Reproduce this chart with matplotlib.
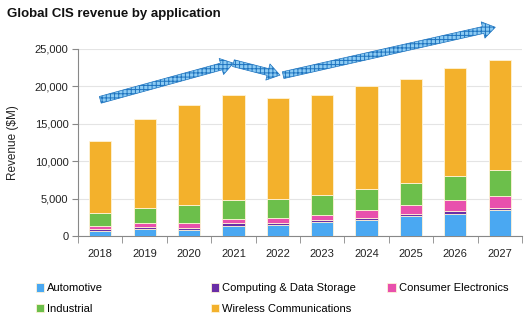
import numpy as np
import matplotlib
matplotlib.use("Agg")
import matplotlib.pyplot as plt
import matplotlib.patches as mpatches

plt.rcParams['font.family'] = ['Liberation Sans', 'DejaVu Sans']
plt.rcParams['hatch.linewidth'] = 0.7

# revenue by application, $M
years = ['2018', '2019', '2020', '2021', '2022', '2023', '2024', '2025', '2026', '2027']
automotive = [650, 930, 800, 1330, 1460, 1860, 2170, 2620, 2970, 3420]
computing = [280, 310, 300, 360, 310, 310, 220, 350, 360, 340]
consumer = [360, 530, 590, 610, 660, 660, 1110, 1190, 1500, 1600]
industrial = [1730, 1950, 2390, 2580, 2490, 2620, 2840, 2980, 3190, 3460]
totals = [12700, 15700, 17500, 18800, 18500, 18900, 20000, 21000, 22400, 23500]
wireless = [t - a - c - s - i for t, a, c, s, i in
            zip(totals, automotive, computing, consumer, industrial)]

series = [
    ('Automotive', automotive, '#4AA8F2'),
    ('Computing & Data Storage', computing, '#6A2EA6'),
    ('Consumer Electronics', consumer, '#E850AD'),
    ('Industrial', industrial, '#6CBF4B'),
    ('Wireless Communications', wireless, '#F3B12C'),
]

# trend arrows (x in category index, y in $M)
arrows = [
    ((0.0, 18200), (3.0, 23100)),
    ((3.0, 23100), (4.05, 21500)),
    ((4.12, 21500), (8.9, 27900)),
]

fig = plt.figure(figsize=(5.24, 3.22), dpi=100)
ax = fig.add_axes([0.149, 0.267, 0.847, 0.581])

x = np.arange(len(years))
bottom = np.zeros(len(years))
handles = []
for name, vals, col in series:
    b = ax.bar(x, vals, 0.5, bottom=bottom, color=col, edgecolor='#FFF3D6',
               linewidth=0.6, label=name, zorder=3)
    handles.append(b)
    bottom += np.array(vals)

ax.set_xlim(-0.5, len(years) - 0.5)
ax.set_ylim(0, 25000)
ax.set_yticks(np.arange(0, 25001, 5000))
ax.set_yticklabels([f'{v:,}' for v in range(0, 25001, 5000)], fontsize=8, color='#222222')
ax.set_xticks(x)
ax.set_xticklabels(years, fontsize=8, color='#222222')
ax.set_xticks(np.arange(-0.5, len(years)), minor=True)
ax.tick_params(axis='x', which='major', length=0, pad=9)
ax.tick_params(axis='x', which='minor', length=5, color='#888888', direction='out')
ax.tick_params(axis='y', length=4, color='#888888', pad=3)
ax.grid(axis='y', color='#E4E4E4', linewidth=0.8, zorder=0)
for s in ['top', 'right']:
    ax.spines[s].set_visible(False)
for s in ['left', 'bottom']:
    ax.spines[s].set_color('#888888')
    ax.spines[s].set_linewidth(0.8)
ax.set_ylabel('Revenue ($M)', fontsize=8.5, color='#222222', labelpad=11)

for start, end in arrows:
    arr = mpatches.FancyArrowPatch(
        start, end, arrowstyle='simple,head_length=9,head_width=12,tail_width=5',
        mutation_scale=1, shrinkA=0, shrinkB=0, facecolor='#8CCBF3',
        edgecolor='#1F74BF', hatch='++++', linewidth=0.5, zorder=5, clip_on=False)
    ax.add_patch(arr)

fig.text(0.013, 0.955, 'Global CIS revenue by application', fontsize=9.5,
         fontweight='bold', color='#111111', va='center')

# legend laid out as three fixed columns
cols = [([0, 3], 0.068), ([1, 4], 0.402), ([2], 0.739)]
for idx, xpos in cols:
    leg = fig.legend([handles[i] for i in idx], [series[i][0] for i in idx],
                     loc='upper left', bbox_to_anchor=(xpos, 0.12),
                     frameon=False, fontsize=8, handlelength=0.75, handleheight=0.75,
                     handletextpad=0.3, labelspacing=0.95, borderpad=0,
                     borderaxespad=0)

fig.savefig('out.png', dpi=100)
